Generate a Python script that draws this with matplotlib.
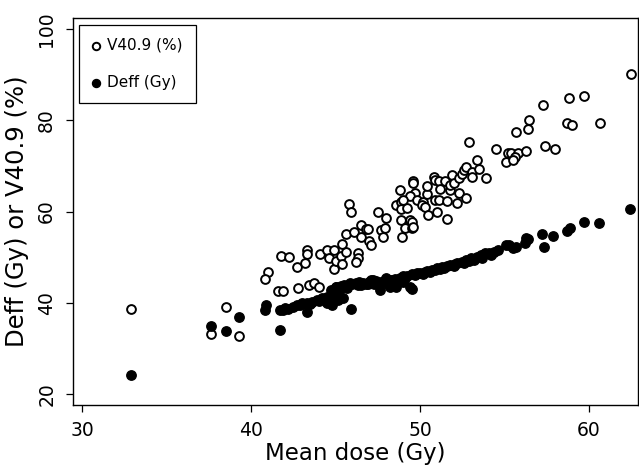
import numpy as np
import matplotlib
matplotlib.use("Agg")
import matplotlib.pyplot as plt

## data: mean dose (Gy) vs V40.9 (%) and Deff (Gy)
v409_dose = [32.85, 38.5, 37.6, 39.3,
             41.0, 40.8, 41.6, 41.9, 41.75, 42.25, 42.7, 43.2, 42.8, 43.4,
             43.7, 44.0, 43.3, 43.3, 44.1, 44.5, 44.9, 44.6, 44.9, 45.0,
             45.3, 45.4, 45.0, 45.6, 45.4, 45.8, 45.9, 45.6, 46.1, 46.5,
             46.8, 46.5, 46.3, 46.3, 46.2, 46.9, 47.0, 47.1, 47.5, 47.7,
             47.9, 47.8, 48.0, 48.6, 48.9, 48.8, 48.9, 49.2, 48.9, 49.4,
             49.1, 49.5, 48.95, 49.56, 49.6, 49.7, 49.4, 49.5, 49.6, 49.0,
             49.8, 50.2, 50.1, 50.3, 50.4, 50.4, 50.5, 50.8, 50.9, 51.1,
             50.9, 51.1, 51.0, 51.2, 51.5, 51.6, 51.6, 51.8, 51.8, 51.9,
             52.0, 52.2, 52.3, 52.3, 52.5, 52.6, 52.7, 52.75, 52.9, 53.1,
             53.1, 53.35, 53.5, 53.9, 54.5, 55.2, 55.4, 55.8, 55.6, 55.1,
             55.5, 55.7, 56.3, 56.4, 56.45, 57.3, 57.4, 58.0, 58.7, 59.0,
             58.85, 59.7, 60.65, 62.5]
v409_pct = [38.6, 39.1, 33.1, 32.65,
            46.7, 45.2, 42.65, 42.65, 50.3, 50.1, 47.9, 48.7, 43.2, 43.9,
            44.4, 43.4, 51.6, 50.7, 50.6, 51.6, 51.6, 49.8, 47.4, 49.2,
            50.3, 48.5, 43.5, 51.2, 52.9, 61.6, 60.0, 55.1, 55.5, 57.1,
            56.1, 54.4, 50.9, 49.8, 48.9, 56.2, 53.6, 52.7, 59.85, 56.0,
            56.3, 54.5, 58.5, 61.4, 62.2, 64.7, 60.5, 60.7, 58.2, 58.2,
            56.3, 56.3, 54.5, 66.6, 66.2, 64.0, 63.3, 57.8, 56.7, 62.5,
            62.6, 62.2, 61.4, 61.1, 63.9, 65.5, 59.25, 67.65, 66.9, 66.6,
            62.5, 62.5, 60.0, 65.0, 66.6, 62.3, 58.3, 64.7, 65.8, 68.0,
            66.2, 61.8, 64.1, 67.3, 68.2, 69.1, 69.85, 63.0, 75.2, 68.75,
            67.65, 71.3, 69.3, 67.3, 73.7, 72.9, 72.9, 72.9, 72.0, 70.9,
            71.2, 77.4, 73.35, 78.1, 80.1, 83.4, 74.45, 73.7, 79.4, 78.9,
            85.0, 85.35, 79.4, 90.2]

deff_dose = [32.85, 37.6, 38.5, 39.3, 40.8, 40.9, 41.7, 41.7, 41.9, 42.2,
             42.5, 42.7, 43.0, 43.3, 43.3, 43.6, 43.9, 44.2, 44.5, 44.5,
             44.8, 44.8, 45.05, 44.75, 45.05, 45.15, 45.45, 45.5, 45.3, 45.85,
             45.9, 46.0, 46.2, 46.4, 46.6, 46.9, 47.0, 47.2, 47.4, 47.6,
             47.7, 48.0, 48.2, 48.3, 48.5, 48.6, 48.8, 49.0, 49.0, 49.2,
             49.4, 49.5, 49.5, 49.8, 50.0, 50.2, 50.4, 50.6, 50.7, 51.0,
             51.2, 51.3, 51.6, 51.8, 52.0, 52.2, 52.5, 52.75, 52.9, 53.0,
             53.35, 53.6, 53.85, 54.1, 54.4, 54.6, 55.1, 55.3, 55.5, 55.7,
             56.2, 56.3, 56.4, 57.2, 57.35, 57.9, 58.7, 58.9, 59.7, 60.6,
             62.45,
             42.0, 42.9, 43.5, 44.0, 44.4, 45.2, 45.7, 46.3, 46.8, 47.1,
             47.9, 48.4, 49.1, 49.7, 50.3, 50.9, 51.4, 52.1, 52.6, 53.2,
             53.7, 54.2, 46.5, 47.3, 48.1]
deff_gy = [24.2, 34.9, 33.75, 36.95, 38.4, 39.5, 34.0, 38.3, 38.4, 38.6,
           39.1, 39.5, 39.9, 40.0, 38.05, 40.2, 40.6, 41.0, 41.3, 39.9,
           41.7, 39.5, 42.1, 42.8, 43.5, 40.6, 41.0, 43.9, 43.7, 44.3,
           38.6, 44.0, 44.3, 44.6, 44.4, 44.2, 44.6, 45.0, 44.8, 42.8,
           44.6, 45.4, 43.5, 44.9, 45.2, 43.5, 45.5, 44.6, 45.8, 45.9,
           43.5, 43.0, 46.2, 46.5, 46.6, 46.3, 47.0, 46.8, 47.2, 47.6,
           47.3, 47.8, 48.1, 48.3, 48.0, 48.7, 49.0, 49.4, 49.2, 49.7,
           50.1, 50.4, 50.85, 51.0, 51.2, 51.6, 52.7, 52.7, 52.0, 52.3,
           53.2, 54.1, 53.9, 55.0, 52.2, 54.65, 55.8, 56.3, 57.6, 57.4,
           60.5,
           38.9, 39.4, 39.7, 40.3, 40.8, 42.5, 43.2, 43.9, 44.1, 44.9,
           45.0, 44.9, 45.4, 46.0, 46.8, 47.1, 47.7, 48.4, 48.8, 49.3,
           49.9, 50.5, 43.8, 44.2, 44.0]

x_ticks = [30, 40, 50, 60]
y_ticks = [20, 40, 60, 80, 100]

## chart
fig = plt.figure(figsize=(6.39, 4.68), dpi=100)
ax = fig.add_axes([0.114, 0.135, 0.884, 0.826])

ax.scatter(v409_dose, v409_pct, s=40, facecolors="white", edgecolors="black",
           linewidths=1.4, label="V40.9 (%)", zorder=3)
ax.scatter(deff_dose, deff_gy, s=46, color="black", label="Deff (Gy)", zorder=3)

ax.set_xlim(29.43, 62.9)
ax.set_ylim(17.6, 102.4)
ax.set_xticks(x_ticks)
ax.set_yticks(y_ticks)
ax.tick_params(direction="out", length=5, width=0.9, labelsize=13.5, pad=7)
plt.setp(ax.get_yticklabels(), rotation=90, va="center")

for sp in ax.spines.values():
    sp.set_linewidth(1.0)

ax.set_xlabel("Mean dose (Gy)", fontsize=16.5, labelpad=1)
ax.set_ylabel("Deff (Gy) or V40.9 (%)", fontsize=17.5, labelpad=6)

leg = ax.legend(loc="upper left", bbox_to_anchor=(0.0106, 0.983),
                borderaxespad=0, fontsize=11, fancybox=False,
                edgecolor="black", framealpha=1, handlelength=0.5,
                handletextpad=0.5, labelspacing=1.45, borderpad=0.85,
                scatterpoints=1, markerscale=0.85)
leg.get_frame().set_linewidth(0.9)

fig.savefig("out.png", dpi=100)
